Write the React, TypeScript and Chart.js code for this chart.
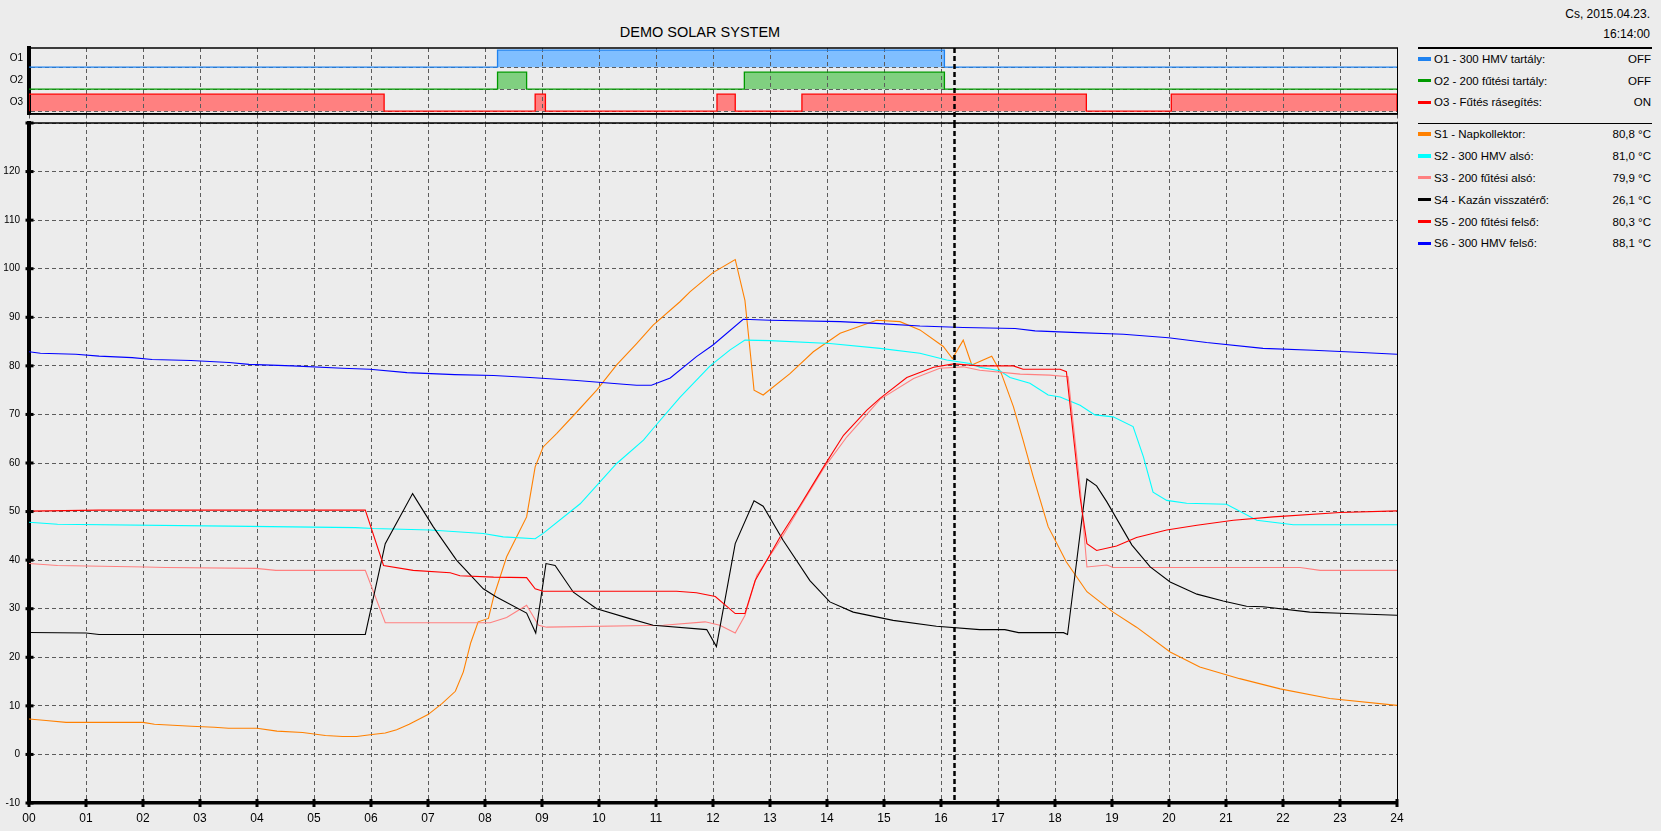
import React, { useEffect, useRef } from 'react';
import { Chart, registerables } from 'chart.js';

Chart.register(...registerables);

const FONT = '"Liberation Sans", Arial, Helvetica, sans-serif';
const BG = '#ececec';
const GRID = '#5c5c5c';

const TITLE = 'DEMO SOLAR SYSTEM';
const DATE_TEXT = 'Cs, 2015.04.23.';
const TIME_TEXT = '16:14:00';

const HOUR_TICKS = [0, 1, 2, 3, 4, 5, 6, 7, 8, 9, 10, 11, 12, 13, 14, 15, 16, 17, 18, 19, 20, 21, 22, 23, 24];
const Y_TICKS = [-10, 0, 10, 20, 30, 40, 50, 60, 70, 80, 90, 100, 110, 120, 130];

// ---- outputs (relay states) ----
const OUTPUT_LABELS = ['O1', 'O2', 'O3'];
const OUTPUT_NAMES = ['O1 - 300 HMV tartály:', 'O2 - 200 fűtési tartály:', 'O3 - Fűtés rásegítés:'];
const OUTPUT_STATES = ['OFF', 'OFF', 'ON'];
const OUTPUT_COLORS = ['#1e82f0', '#009a00', '#ff0000'];
const OUTPUT_FILLS = ['#80bfff', '#80d080', '#ff8080'];
const OUTPUT_LANES = [2, 1, 0];
const O1_ON: [number, number][] = [[8.22, 16.06]];
const O2_ON: [number, number][] = [[8.22, 8.73], [12.55, 16.06]];
const O3_ON: [number, number][] = [[0, 6.23], [8.88, 9.06], [12.07, 12.39], [13.56, 18.55], [20.04, 24]];
const OUTPUT_ON = [O1_ON, O2_ON, O3_ON];
const LANE_BASE = 0.13;
const LANE_TOP = 0.9;

// ---- sensors ----
const SENSOR_NAMES = [
  'S1 - Napkollektor:',
  'S2 - 300 HMV alsó:',
  'S3 - 200 fűtési alsó:',
  'S4 - Kazán visszatérő:',
  'S5 - 200 fűtési felső:',
  'S6 - 300 HMV felső:',
];
const SENSOR_VALUES = ['80,8 °C', '81,0 °C', '79,9 °C', '26,1 °C', '80,3 °C', '88,1 °C'];
const SENSOR_COLORS = ['#ff8000', '#00ffff', '#ff8080', '#000000', '#ff0000', '#0000ff'];

const S1: [number, number][] = [
  [0, 7.3], [0.3, 7.0], [0.65, 6.6], [2.0, 6.6], [2.2, 6.2], [2.85, 5.8], [3.25, 5.6], [3.5, 5.4], [4.0, 5.4],
  [4.35, 4.8], [4.8, 4.5], [5.2, 3.9], [5.5, 3.7], [5.75, 3.7], [6.02, 4.1], [6.25, 4.4], [6.45, 5.1], [6.67, 6.2],
  [7.0, 8.2], [7.25, 10.5], [7.48, 13.0], [7.62, 17.0], [7.75, 23.0], [7.88, 27.3], [8.06, 28.0], [8.15, 32.4],
  [8.38, 40.7], [8.73, 48.9], [8.88, 59.2], [9.02, 63.3], [9.26, 66.1], [9.61, 70.5], [9.96, 75.0], [10.31, 80.2],
  [10.66, 84.6], [10.95, 88.4], [11.42, 93.2], [11.6, 95.3], [12.0, 99.2], [12.39, 101.9], [12.56, 93.5],
  [12.65, 83.2], [12.72, 75.0], [12.88, 74.0], [13.35, 78.4], [13.76, 82.9], [14.23, 86.7], [14.87, 89.4],
  [15.28, 89.1], [15.63, 87.4], [16.04, 84.0], [16.2, 81.5], [16.39, 85.3], [16.54, 80.2], [16.89, 82.0],
  [17.06, 78.4], [17.27, 71.6], [17.44, 64.7], [17.62, 57.1], [17.88, 46.9], [18.2, 39.6], [18.56, 33.5],
  [19.02, 29.3], [19.43, 26.2], [20.02, 21.1], [20.54, 18.0], [21.24, 15.6], [21.95, 13.5], [22.82, 11.5], [24, 10.1],
];
const S2: [number, number][] = [
  [0, 47.8], [0.5, 47.4], [3.5, 47.0], [5.73, 46.7], [6.04, 46.5], [7.04, 46.2], [7.97, 45.5], [8.32, 44.8],
  [8.88, 44.4], [9.02, 45.5], [9.67, 51.6], [10.31, 59.9], [10.78, 64.7], [10.95, 67.1], [11.42, 73.5],
  [11.95, 80.0], [12.3, 83.3], [12.56, 85.3], [13.0, 85.2], [14.05, 84.6], [14.93, 83.6], [15.63, 82.6],
  [16.1, 81.2], [16.51, 80.5], [16.68, 79.7], [17.03, 79.0], [17.21, 77.6], [17.56, 76.4], [17.88, 74.0],
  [18.09, 73.6], [18.44, 71.9], [18.7, 69.9], [19.02, 69.5], [19.37, 67.5], [19.55, 61.3], [19.72, 54.0],
  [19.96, 52.3], [20.31, 51.7], [21.01, 51.5], [21.54, 48.2], [22.18, 47.3], [24, 47.3],
];
const S3: [number, number][] = [
  [0, 39.3], [0.5, 38.9], [2.05, 38.6], [2.4, 38.5], [3.98, 38.3], [4.33, 37.9], [5.9, 37.9], [6.25, 27.1],
  [8.09, 27.1], [8.38, 28.2], [8.73, 30.7], [8.94, 26.6], [9.08, 26.2], [11.13, 26.6], [11.86, 27.3],
  [12.12, 26.6], [12.39, 25.0], [12.56, 28.6], [12.77, 36.9], [13.18, 44.1], [13.53, 51.0], [13.94, 58.9],
  [14.35, 65.4], [14.93, 73.1], [15.52, 77.4], [15.98, 79.5], [16.39, 79.8], [16.68, 79.1], [17.39, 78.3],
  [17.91, 78.1], [18.23, 77.75], [18.44, 55.1], [18.56, 38.6], [18.91, 39.0], [19.02, 38.5], [22.3, 38.5],
  [22.65, 37.9], [24, 37.9],
];
const S4: [number, number][] = [
  [0, 25.1], [1.0, 25.0], [1.23, 24.7], [5.9, 24.7], [6.25, 43.4], [6.73, 53.7], [7.09, 46.9], [7.5, 40.0],
  [7.97, 34.1], [8.2, 32.4], [8.73, 29.1], [8.89, 25.0], [9.07, 39.3], [9.23, 38.9], [9.55, 33.4], [9.96, 30.0],
  [10.54, 27.96], [10.95, 26.6], [11.89, 25.7], [12.06, 22.2], [12.39, 43.4], [12.72, 52.2], [12.88, 51.1],
  [13.23, 44.1], [13.7, 35.8], [14.05, 31.4], [14.46, 29.3], [15.16, 27.6], [15.92, 26.4], [16.68, 25.7],
  [17.12, 25.7], [17.36, 25.07], [18.15, 25.07], [18.22, 24.7], [18.56, 56.7], [18.73, 55.3], [18.91, 52.0],
  [19.35, 43.1], [19.67, 38.6], [20.02, 35.5], [20.49, 33.0], [20.95, 31.6], [21.36, 30.5], [21.65, 30.4],
  [22.47, 29.3], [23.12, 29.0], [24, 28.65],
];
const S5: [number, number][] = [
  [0, 50.1], [1.23, 50.3], [5.9, 50.3], [6.22, 38.9], [6.74, 37.9], [7.39, 37.4], [7.56, 36.8], [8.15, 36.5],
  [8.73, 36.4], [8.88, 34.1], [9.02, 33.6], [11.36, 33.6], [11.71, 33.3], [12.04, 32.5], [12.39, 29.0],
  [12.56, 29.0], [12.74, 35.8], [13.18, 44.8], [13.53, 51.3], [13.94, 59.2], [14.29, 65.7], [14.7, 70.9],
  [14.93, 73.3], [15.4, 77.6], [15.87, 79.7], [16.22, 80.4], [16.68, 80.0], [17.27, 80.0], [17.44, 79.3],
  [18.09, 79.3], [18.2, 78.8], [18.44, 53.0], [18.56, 43.4], [18.73, 42.0], [19.08, 42.9], [19.43, 44.65],
  [19.96, 46.2], [20.49, 47.2], [21.13, 48.2], [21.83, 48.9], [23.0, 49.8], [24, 50.15],
];
const S6: [number, number][] = [
  [0, 82.9], [0.2, 82.6], [0.82, 82.4], [1.23, 82.0], [1.81, 81.7], [2.16, 81.3], [2.84, 81.1], [3.51, 80.7],
  [3.86, 80.3], [4.62, 80.0], [5.5, 79.5], [5.98, 79.3], [6.63, 78.6], [7.47, 78.2], [8.15, 78.0], [8.79, 77.6],
  [9.61, 77.0], [10.43, 76.2], [10.66, 76.0], [10.92, 76.0], [11.25, 77.5], [11.71, 81.9], [12.0, 84.3],
  [12.53, 89.6], [13.0, 89.4], [14.23, 89.1], [14.93, 88.7], [15.63, 88.2], [16.39, 87.9], [17.3, 87.7],
  [17.65, 87.2], [18.29, 86.9], [19.2, 86.5], [19.99, 85.8], [20.66, 84.8], [21.65, 83.6], [22.53, 83.2],
  [23.29, 82.8], [24, 82.4],
];
const SENSOR_SERIES = [S1, S2, S3, S4, S5, S6];

const nowHours = () => {
  const [h, m, s] = TIME_TEXT.split(':').map(Number);
  return h + m / 60 + s / 3600;
};

function stepPoints(intervals: [number, number][], lane: number) {
  const base = lane + LANE_BASE;
  const top = lane + LANE_TOP;
  const pts: { x: number; y: number }[] = [{ x: 0, y: base }];
  for (const [a, b] of intervals) {
    pts.push({ x: a, y: base }, { x: a, y: top }, { x: b, y: top }, { x: b, y: base });
  }
  pts.push({ x: 24, y: base });
  return pts;
}

const zeroPad = (s: any) => {
  s.paddingTop = 0;
  s.paddingBottom = 0;
  s.paddingLeft = 0;
  s.paddingRight = 0;
};

const nowLinePlugin = (toCanvasBottom: boolean) => ({
  id: 'nowLine',
  afterDatasetsDraw(chart: any) {
    const { ctx, chartArea } = chart;
    const x = Math.round(chart.scales.x.getPixelForValue(nowHours())) + 0.5;
    ctx.save();
    ctx.strokeStyle = '#000';
    ctx.lineWidth = 2.5;
    ctx.setLineDash([5, 3]);
    ctx.beginPath();
    ctx.moveTo(x, chartArea.top);
    ctx.lineTo(x, toCanvasBottom ? chart.height : chartArea.bottom);
    ctx.stroke();
    ctx.restore();
  },
});

const frameTopPlugin = {
  id: 'frameTop',
  afterDraw(chart: any) {
    const { ctx, chartArea: a } = chart;
    ctx.save();
    ctx.strokeStyle = '#000';
    ctx.lineWidth = 1.5;
    ctx.beginPath();
    ctx.moveTo(a.left, a.top);
    ctx.lineTo(a.right + 1, a.top);
    ctx.stroke();
    ctx.lineWidth = 1;
    ctx.beginPath();
    ctx.moveTo(a.right + 0.5, a.top);
    ctx.lineTo(a.right + 0.5, a.bottom);
    ctx.stroke();
    ctx.restore();
  },
};

const tickStubPlugin = {
  id: 'tickStubs',
  afterDraw(chart: any) {
    const { ctx } = chart;
    const xs = chart.scales.x;
    const ys = chart.scales.y;
    ctx.save();
    ctx.fillStyle = '#000';
    ys.ticks.forEach((t: any) => {
      const py = ys.getPixelForValue(t.value);
      ctx.fillRect(ys.right - 3.5, py - 1.5, 8, 3);
    });
    xs.ticks.forEach((t: any) => {
      const px = xs.getPixelForValue(t.value);
      ctx.fillRect(px - 1.5, xs.top - 4, 3, 8);
    });
    ctx.restore();
  },
};

export default function App() {
  const topRef = useRef<HTMLCanvasElement>(null);
  const mainRef = useRef<HTMLCanvasElement>(null);

  useEffect(() => {
    document.body.style.margin = '0';

    const topChart = new Chart(topRef.current as HTMLCanvasElement, {
      type: 'line',
      data: {
        datasets: OUTPUT_ON.map((iv, i) => ({
          label: OUTPUT_LABELS[i],
          data: stepPoints(iv, OUTPUT_LANES[i]),
          borderColor: OUTPUT_COLORS[i],
          backgroundColor: OUTPUT_FILLS[i],
          borderWidth: 1.3,
          fill: { value: OUTPUT_LANES[i] + LANE_BASE },
          pointRadius: 0,
          tension: 0,
        })),
      },
      options: {
        animation: false,
        responsive: false,
        events: [],
        layout: { padding: { top: 8, right: 23, left: 0, bottom: 0 } },
        plugins: {
          legend: { display: false },
          tooltip: { enabled: false },
          filler: { drawTime: 'beforeDraw' },
        } as any,
        scales: {
          x: {
            type: 'linear',
            min: 0,
            max: 24,
            afterBuildTicks: (s: any) => {
              s.ticks = HOUR_TICKS.map((v) => ({ value: v }));
            },
            ticks: { display: false },
            grid: { color: GRID, lineWidth: 1, drawTicks: true, tickLength: 10, tickColor: GRID, tickBorderDash: [4, 3] },
            border: { display: true, color: '#000', width: 1.5, dash: [4, 3] },
            afterFit: (s: any) => {
              s.height = 10;
              zeroPad(s);
            },
          },
          y: {
            type: 'linear',
            min: 0,
            max: 3,
            afterBuildTicks: (s: any) => {
              s.ticks = OUTPUT_LANES.slice().reverse().map((l) => ({ value: l + LANE_BASE }));
            },
            ticks: {
              callback: (v: any) => OUTPUT_LABELS[OUTPUT_LANES.indexOf(Math.round(Number(v) - LANE_BASE))],
              font: { family: FONT, size: 10 },
              color: '#000',
              padding: 6,
              labelOffset: -8.5,
            },
            grid: { color: GRID, lineWidth: 1, drawTicks: false },
            border: { display: true, color: '#000', width: 4, dash: [4, 3] },
            afterFit: (s: any) => {
              s.width = 29;
              zeroPad(s);
            },
          },
        } as any,
      },
      plugins: [frameTopPlugin, nowLinePlugin(true), {
        id: 'bottomLine',
        afterDraw(chart: any) {
          const { ctx, chartArea: a } = chart;
          ctx.save();
          ctx.strokeStyle = '#000';
          ctx.lineWidth = 1.5;
          ctx.beginPath();
          ctx.moveTo(a.left, a.bottom);
          ctx.lineTo(a.right + 1, a.bottom);
          ctx.stroke();
          ctx.restore();
        },
      }],
    } as any);

    const mainChart = new Chart(mainRef.current as HTMLCanvasElement, {
      type: 'line',
      data: {
        datasets: SENSOR_SERIES.map((series, i) => ({
          label: SENSOR_NAMES[i],
          data: series.map(([x, y]) => ({ x, y })),
          borderColor: SENSOR_COLORS[i],
          backgroundColor: SENSOR_COLORS[i],
          borderWidth: 1.1,
          pointRadius: 0,
          tension: 0,
          fill: false,
          order: SENSOR_SERIES.length - i,
        })),
      },
      options: {
        animation: false,
        responsive: false,
        events: [],
        layout: { padding: { top: 5, right: 23, left: 0, bottom: 0 } },
        plugins: { legend: { display: false }, tooltip: { enabled: false } },
        scales: {
          x: {
            type: 'linear',
            min: 0,
            max: 24,
            afterBuildTicks: (s: any) => {
              s.ticks = HOUR_TICKS.map((v) => ({ value: v }));
            },
            ticks: {
              callback: (v: any) => String(v).padStart(2, '0'),
              font: { family: FONT, size: 12 },
              color: '#000',
              padding: 8,
              maxRotation: 0,
              autoSkip: false,
            },
            grid: { color: GRID, lineWidth: 1, drawTicks: false },
            border: { display: true, color: '#000', width: 3.5, dash: [4, 3] },
            afterFit: (s: any) => {
              s.height = 28;
              zeroPad(s);
            },
          },
          y: {
            type: 'linear',
            min: -10,
            max: 130,
            afterBuildTicks: (s: any) => {
              s.ticks = Y_TICKS.map((v) => ({ value: v }));
            },
            ticks: {
              callback: (v: any) => (Number(v) === 130 ? '' : String(v)),
              font: { family: FONT, size: 10 },
              color: '#000',
              padding: 9,
            },
            grid: { color: GRID, lineWidth: 1, drawTicks: false },
            border: { display: true, color: '#000', width: 4, dash: [4, 3] },
            afterFit: (s: any) => {
              s.width = 29;
              zeroPad(s);
            },
          },
        } as any,
      },
      plugins: [frameTopPlugin, nowLinePlugin(false), tickStubPlugin],
    } as any);

    return () => {
      topChart.destroy();
      mainChart.destroy();
    };
  }, []);

  const textBase: React.CSSProperties = {
    position: 'absolute',
    fontFamily: FONT,
    color: '#000',
    whiteSpace: 'nowrap',
  };
  const outRows = [59, 80.7, 102.3];
  const senRows = [134, 156, 177.7, 199.6, 221.5, 243.3];

  const legendRow = (key: string, center: number, color: string, name: string, value: string) => (
    <React.Fragment key={key}>
      <div style={{ position: 'absolute', left: 1418, top: center - 1.75, width: 13, height: 3.5, background: color }} />
      <div style={{ ...textBase, left: 1434, top: center - 8, height: 16, lineHeight: '16px', fontSize: 11.5 }}>{name}</div>
      <div style={{ ...textBase, left: 1540, width: 111, textAlign: 'right', top: center - 8, height: 16, lineHeight: '16px', fontSize: 11.5 }}>{value}</div>
    </React.Fragment>
  );

  return (
    <div style={{ position: 'fixed', left: 0, top: 0, width: 1661, height: 831, overflow: 'hidden', background: BG }}>
      <div style={{ ...textBase, left: 560, width: 280, textAlign: 'center', top: 22.5, height: 18, lineHeight: '18px', fontSize: 14.5 }}>{TITLE}</div>
      <div style={{ ...textBase, left: 1450, width: 200, textAlign: 'right', top: 5.5, height: 16, lineHeight: '16px', fontSize: 12 }}>{DATE_TEXT}</div>
      <div style={{ ...textBase, left: 1450, width: 200, textAlign: 'right', top: 26.3, height: 16, lineHeight: '16px', fontSize: 12 }}>{TIME_TEXT}</div>
      <div style={{ position: 'absolute', left: 1418, top: 46.5, width: 234, height: 2, background: '#000' }} />
      {OUTPUT_NAMES.map((n, i) => legendRow('o' + i, outRows[i], OUTPUT_COLORS[i], n, OUTPUT_STATES[i]))}
      <div style={{ position: 'absolute', left: 1418, top: 123, width: 234, height: 1, background: '#000' }} />
      {SENSOR_NAMES.map((n, i) => legendRow('s' + i, senRows[i], SENSOR_COLORS[i], n, SENSOR_VALUES[i]))}
      <canvas ref={topRef} width={1420} height={84} style={{ position: 'absolute', left: 0, top: 40, width: 1420, height: 84 }} />
      <canvas ref={mainRef} width={1420} height={713} style={{ position: 'absolute', left: 0, top: 118, width: 1420, height: 713 }} />
    </div>
  );
}
